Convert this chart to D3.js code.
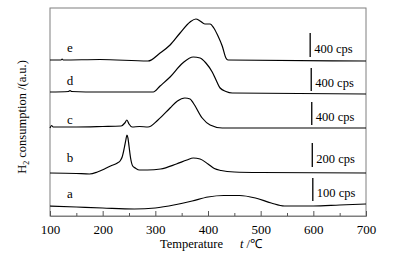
<!DOCTYPE html>
<html><head><meta charset="utf-8">
<script src="https://cdn.jsdelivr.net/npm/d3@7"></script>
<style>body{margin:0;background:#fff}svg{display:block}</style>
</head><body>
<script>
// Data: temperature (°C) and H2 consumption signal (a.u., includes vertical stacking offset)
const seriesNames = ["a","b","c","d","e"];
const scaleBarLabels = ["100 cps","200 cps","400 cps","400 cps","400 cps"];
const xTicks = [100,200,300,400,500,600,700];
const xMinorTicks = [150,250,350,450,550,650];

const curveA = [[100,10],[150,9],[200,8],[260,7],[300,8],[340,11.5],[370,15],[400,19],[430,20.5],[460,20.5],[490,18],[520,13],[545,10],[560,10],[600,10],[650,11],[700,12]];
const curveB = [[100,43],[150,42.5],[175,42],[190,44],[205,47.5],[215,50],[228,53],[233,55],[237,59],[241,68],[244,76],[246,81],[248,78],[250,70],[253,58],[257,50],[262,48],[270,46],[285,46],[310,47],[340,52],[360,56],[372,58],[385,57],[400,52],[412,47.5],[425,45.5],[450,44],[500,43.5],[700,43]];
const curveC = [[100,88],[103,90.5],[106,89],[110,89],[150,89],[200,89.5],[235,90],[242,93],[246,96],[250,92],[256,89],[270,89.5],[286,89],[305,96],[328,108],[342,115],[356,118],[366,117],[372,113],[389,98],[404,91],[427,88],[700,88]];
const curveD = [[100,124],[135,124.5],[138,125.5],[141,124.5],[195,124],[296,124],[309,130],[328,139],[352,153],[372,159],[385,158],[396,153],[408,144],[417,134],[423,128],[434,124.5],[446,123],[700,122]];
const curveE = [[100,156],[121,156],[123,157],[125,156],[195,156.5],[286,155],[309,163],[328,171],[347,183],[366,194],[377,197],[385,195],[394,192],[404,192],[411,188],[419,180],[427,170],[434,158],[438,156],[700,155]];
const curves = [curveA,curveB,curveC,curveD,curveE];
// scale bar: temperature position, bottom and top values (a.u.)
const barT = [599,598,597,596,594];
const barBottom = [15,49,91,125,159];
const barTop = [38,73,114,148,183];
const labelT = 138;
const labelY = [18,54,92,131,164];

const FONT = "'Liberation Serif','Times New Roman',Times,serif";
const W=395,H=256, m={l:50,r:29,t:8,b:40};
const svg=d3.select("body").append("svg").attr("width",W).attr("height",H);
const x=d3.scaleLinear().domain([100,700]).range([m.l,W-m.r]);
const y=d3.scaleLinear().domain([0,208]).range([H-m.b,m.t]);

// frame
svg.append("rect").attr("x",x(100)).attr("y",y(208)).attr("width",x(700)-x(100)).attr("height",y(0)-y(208))
  .attr("fill","none").attr("stroke","#7f7f7f").attr("stroke-width",1);

// x axis
const ax=svg.append("g").attr("transform",`translate(0,${y(0)})`);
ax.call(d3.axisBottom(x).tickValues(xTicks).tickSizeInner(-5).tickSizeOuter(0).tickPadding(9).tickFormat(d3.format("d")));
ax.append("g").call(d3.axisBottom(x).tickValues(xMinorTicks).tickSizeInner(-3).tickSizeOuter(0).tickFormat(""));
ax.selectAll(".domain").attr("stroke","#7f7f7f");
ax.selectAll(".tick line").attr("stroke","#555");
ax.selectAll("text").style("font-size","13px").style("font-family",FONT).style("fill","#000");

// axis titles
svg.append("text").attr("x",160).attr("y",248).style("font-size","12.5px").style("font-family",FONT).text("Temperature");
const tl=svg.append("text").attr("x",240).attr("y",248).style("font-size","12.5px").style("font-family",FONT);
tl.append("tspan").attr("font-style","italic").text("t");
tl.append("tspan").text(" /℃");
const yl=svg.append("text").attr("transform","translate(26,117) rotate(-90)").attr("text-anchor","middle").style("font-size","12.5px").style("font-family",FONT);
yl.append("tspan").text("H");
yl.append("tspan").style("font-size","8px").attr("dy",3).text("2");
yl.append("tspan").attr("dy",-3).text(" consumption /(a.u.)");

// curves
const line=d3.line().x(d=>x(d[0])).y(d=>y(d[1])).curve(d3.curveMonotoneX);
svg.selectAll("path.c").data(curves).enter().append("path").attr("class","c")
  .attr("d",line).attr("fill","none").attr("stroke","#000").attr("stroke-width",1.2);

// labels and scale bars
seriesNames.forEach((n,i)=>{
  svg.append("text").attr("x",x(labelT)).attr("y",y(labelY[i])).attr("text-anchor","middle")
    .style("font-size","13px").style("font-family",FONT).text(n);
  svg.append("line").attr("x1",x(barT[i])).attr("x2",x(barT[i])).attr("y1",y(barBottom[i])).attr("y2",y(barTop[i]))
    .attr("stroke","#000").attr("stroke-width",1.3);
  svg.append("text").attr("x",x(barT[i])+4).attr("y",y(barBottom[i])-4)
    .style("font-size","12.5px").style("font-family",FONT).text(scaleBarLabels[i]);
});
</script>
</body></html>
